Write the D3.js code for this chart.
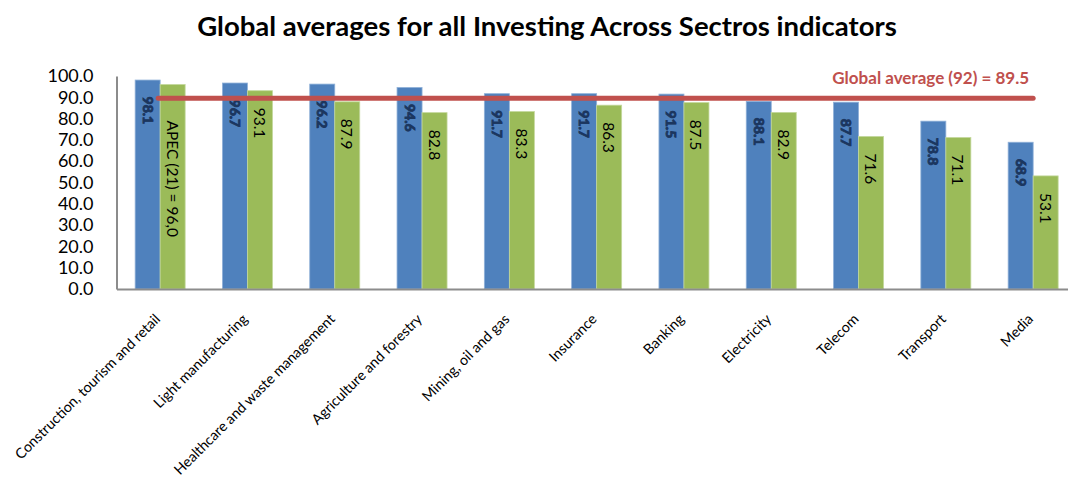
<!DOCTYPE html>
<html>
<head>
<meta charset="utf-8">
<script src="https://cdn.jsdelivr.net/npm/d3@7"></script>
<style>
  html, body { margin: 0; padding: 0; background: #fff; }
  svg { display: block; }
</style>
</head>
<body>
<svg id="chart" width="1068" height="484"></svg>
<script>
// Sector names along the x axis
const categories = [
  "Construction, tourism and retail",
  "Light manufacturing",
  "Healthcare and waste management",
  "Agriculture and forestry",
  "Mining, oil and gas",
  "Insurance",
  "Banking",
  "Electricity",
  "Telecom",
  "Transport",
  "Media"
];
// Global averages (blue) and APEC averages (green) per sector
const globalValues = [98.1, 96.7, 96.2, 94.6, 91.7, 91.7, 91.5, 88.1, 87.7, 78.8, 68.9];
const apecValues   = [96.0, 93.1, 87.9, 82.8, 83.3, 86.3, 87.5, 82.9, 71.6, 71.1, 53.1];
// Overall global average across all sectors
const globalAverage = 89.5;
const globalAverageLabel = "Global average (92) = 89.5";
const apecFirstLabel = "APEC (21) = 96,0";
const yTicks = [0, 10, 20, 30, 40, 50, 60, 70, 80, 90, 100];
const title = "Global averages for all Investing Across Sectros indicators";

const svg = d3.select("#chart");
const font = "Lato, 'Open Sans', sans-serif";

const left = 116.5, step = 87.3, bandW = 50;
const x = d3.scaleBand()
  .domain(categories)
  .range([left, left + step * categories.length])
  .paddingInner((step - bandW) / step)
  .paddingOuter((step - bandW) / step / 2);
const xs = d3.scaleBand().domain(["global", "apec"]).range([0, x.bandwidth()]);
const y = d3.scaleLinear().domain([0, 100]).range([289, 76]);

// Title
svg.append("text")
  .attr("x", 547).attr("y", 36)
  .attr("text-anchor", "middle")
  .attr("font-family", font).attr("font-weight", 700).attr("font-size", 27.5)
  .attr("fill", "#000")
  .text(title);

// Y axis
const yAxis = svg.append("g")
  .attr("transform", `translate(${left},0)`)
  .call(d3.axisLeft(y).tickValues(yTicks).tickFormat(d3.format(".1f")).tickSize(0).tickPadding(23));
yAxis.select(".domain").attr("stroke", "#8c8c8c").attr("stroke-width", 2);
yAxis.selectAll("text")
  .attr("font-family", font).attr("font-size", 18).attr("fill", "#000");

// Bars
const groups = svg.append("g").selectAll("g")
  .data(categories)
  .join("g")
  .attr("transform", d => `translate(${x(d)},0)`);

groups.append("rect")
  .attr("x", xs("global")).attr("width", xs.bandwidth())
  .attr("y", (d, i) => y(globalValues[i]))
  .attr("height", (d, i) => y(0) - y(globalValues[i]))
  .attr("fill", "#4F81BD").attr("stroke", "#8fb0d8").attr("stroke-width", 0.8);

groups.append("rect")
  .attr("x", xs("apec")).attr("width", xs.bandwidth())
  .attr("y", (d, i) => y(apecValues[i]))
  .attr("height", (d, i) => y(0) - y(apecValues[i]))
  .attr("fill", "#9BBB59").attr("stroke", "#c3d89c").attr("stroke-width", 0.8);

// X axis
const xAxis = svg.append("g")
  .attr("transform", `translate(0,${y(0)})`)
  .call(d3.axisBottom(x).tickSize(0).tickFormat(() => ""));
xAxis.select(".domain").attr("stroke", "#8c8c8c").attr("stroke-width", 2);

// Category labels, rotated
svg.append("g").selectAll("text")
  .data(categories)
  .join("text")
  .attr("transform", d => `translate(${x(d) + x.bandwidth() / 2 + 1},${y(0) + 31}) rotate(-45)`)
  .attr("text-anchor", "end")
  .attr("font-family", font).attr("font-size", 14.3).attr("fill", "#000")
  .text(d => d);

// Global average reference line
const lineX0 = x(categories[0]) + x.bandwidth() / 2 - 2;
const lineX1 = x(categories[categories.length - 1]) + x.bandwidth() / 2;
svg.append("line")
  .attr("x1", lineX0).attr("x2", lineX1)
  .attr("y1", y(globalAverage)).attr("y2", y(globalAverage))
  .attr("stroke", "#C0504D").attr("stroke-width", 5).attr("stroke-linecap", "round");

svg.append("text")
  .attr("x", lineX1 - 4).attr("y", y(globalAverage) - 14)
  .attr("text-anchor", "end")
  .attr("font-family", font).attr("font-weight", 700).attr("font-size", 17)
  .attr("fill", "#C0504D")
  .text(globalAverageLabel);

// Value labels inside the bars, reading downward
groups.append("text")
  .attr("transform", (d, i) => `translate(${x.bandwidth() * 0.25 - 5},${y(globalValues[i]) + 16.5}) rotate(90)`)
  .attr("font-family", font).attr("font-weight", 700).attr("font-size", 14)
  .attr("fill", "#1B365F")
  .attr("stroke", "#1B365F").attr("stroke-width", 0.9)
  .text((d, i) => globalValues[i].toFixed(1));

groups.append("text")
  .attr("transform", (d, i) => `translate(${x.bandwidth() * 0.75 - 6},${y(apecValues[i]) + (i === 0 ? 36 : 17)}) rotate(90)`)
  .attr("font-family", font).attr("font-size", 15.5)
  .attr("fill", "#000")
  .text((d, i) => i === 0 ? apecFirstLabel : apecValues[i].toFixed(1));
</script>
</body>
</html>
